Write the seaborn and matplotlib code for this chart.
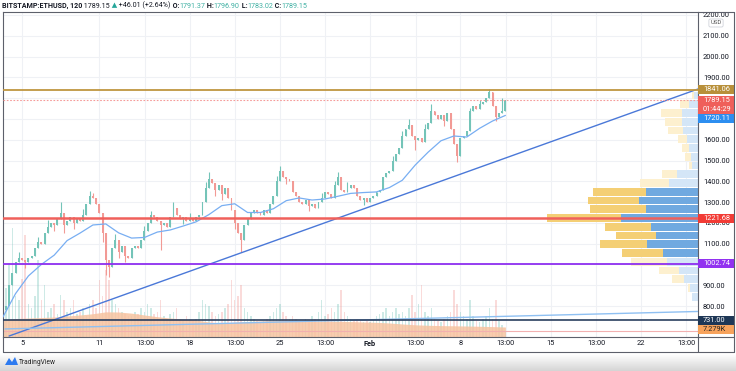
import numpy as np
import pandas as pd
import seaborn as sns
import matplotlib.pyplot as plt
import matplotlib.transforms as mtransforms
from matplotlib.patches import Rectangle, Polygon
from matplotlib.colors import LinearSegmentedColormap
from matplotlib import font_manager as fm

# ---- data ----
# ETH/USD closes, one every 6h starting Jan 3 12:00 (t in days since Jan 5)
close = [780, 800, 900, 960, 1010, 1030, 1020, 1010, 1030, 1040,
         1080, 1110, 1100, 1150, 1180, 1200, 1190, 1220, 1250, 1190,
         1210, 1230, 1200, 1220, 1210, 1240, 1290, 1330, 1320, 1290,
         1250, 1150, 1020, 990, 1080, 1120, 1060, 1090, 1040, 1030,
         1080, 1090, 1080, 1120, 1160, 1200, 1240, 1230, 1210, 1190,
         1200, 1180, 1230, 1270, 1240, 1220, 1230, 1210, 1220, 1210,
         1230, 1240, 1300, 1370, 1410, 1390, 1360, 1380, 1340, 1370,
         1320, 1260, 1200, 1150, 1120, 1190, 1220, 1250, 1260, 1250,
         1240, 1260, 1250, 1290, 1330, 1400, 1450, 1420, 1410, 1400,
         1350, 1330, 1300, 1290, 1310, 1280, 1290, 1270, 1300, 1320,
         1350, 1340, 1320, 1380, 1420, 1360, 1350, 1370, 1380, 1370,
         1330, 1310, 1320, 1300, 1320, 1330, 1350, 1360, 1420, 1440,
         1450, 1500, 1530, 1560, 1620, 1650, 1670, 1620, 1600, 1610,
         1590, 1650, 1680, 1740, 1720, 1700, 1720, 1690, 1730, 1650,
         1580, 1520, 1610, 1620, 1640, 1740, 1760, 1750, 1770, 1780,
         1800, 1830, 1760, 1710, 1730, 1740, 1789.15]
first_open = 760
wick_high = {5: 1060, 11: 1130, 14: 1215, 18: 1300, 25: 1265, 27: 1355, 28: 1345,
             35: 1145, 44: 1185, 46: 1255, 53: 1300, 58: 1250, 63: 1395, 64: 1445,
             85: 1425, 86: 1475, 99: 1345, 103: 1400, 104: 1445, 107: 1395,
             121: 1520, 124: 1640, 126: 1700, 131: 1675, 133: 1770, 145: 1755,
             148: 1790, 151: 1845, 155: 1800}
wick_low = {0: 745, 2: 850, 7: 985, 16: 1160, 19: 1150, 22: 1170, 31: 1110,
            32: 950, 33: 940, 36: 1030, 38: 1010, 49: 1070, 56: 1195, 66: 1330,
            68: 1310, 72: 1170, 74: 1060, 88: 1385, 95: 1255, 112: 1285,
            128: 1550, 137: 1665, 141: 1495, 153: 1690}
volume_k = [40, 60, 90, 132, 50, 45, 70, 124, 40, 35,
            50, 93, 45, 63, 30, 35, 40, 28, 51, 45,
            30, 35, 45, 28, 30, 35, 25, 40, 45, 35,
            69, 50, 81, 69, 45, 40, 35, 30, 28, 25,
            25, 30, 28, 35, 30, 40, 35, 28, 30, 45,
            25, 22, 28, 30, 35, 22, 20, 25, 22, 20,
            22, 30, 45, 40, 38, 30, 25, 28, 30, 35,
            40, 69, 45, 50, 63, 35, 30, 25, 22, 20,
            18, 20, 22, 25, 30, 35, 40, 30, 25, 22,
            25, 22, 20, 18, 22, 20, 25, 22, 30, 45,
            25, 28, 35, 30, 40, 57, 30, 25, 22, 20,
            22, 20, 18, 20, 18, 22, 25, 28, 30, 35,
            25, 30, 35, 28, 30, 25, 35, 51, 30, 40,
            63, 30, 25, 35, 22, 20, 18, 22, 25, 30,
            57, 40, 30, 25, 22, 45, 25, 20, 18, 22,
            25, 35, 22, 45, 20, 15, 7.279]

# daily samples of the moving average and the volume average
ma_price = [745, 860, 945, 1000, 1045, 1115, 1151, 1190, 1195, 1152,
            1127, 1130, 1156, 1166, 1185, 1205, 1240, 1283, 1292, 1250,
            1250, 1268, 1307, 1320, 1310, 1315, 1328, 1342, 1346, 1349,
            1370, 1405, 1478, 1540, 1595, 1618, 1613, 1655, 1690, 1717]
vol_avg_k = [20.6, 22.4, 23, 23.6, 24.2, 25.5, 26.7, 28.2, 30.5, 30.3,
             28.9, 26.7, 24.6, 23, 21.8, 20.6, 18.2, 17, 17.8, 18.8,
             19.4, 20.2, 20.6, 20, 19.4, 19.4, 19, 18.7, 18.2, 17.8,
             17, 15.8, 14.8, 14.2, 13.8, 13.6, 13.3, 13, 12.6, 12.1]

# drawn lines
trend_t, trend_p = [-1.0, 52.44], [656, 1844]
trend2_t, trend2_p = [-1.32, 52.44], [690, 774]
lvl_gold, lvl_last, lvl_red, lvl_purple, lvl_navy = 1841.06, 1789.15, 1221.68, 1002.74, 731.00
ma_last = 1720.11

# visible range volume profile, bins top -> bottom between 824 and 1834
prof_top, prof_bottom = 1834, 824
prof_up = [4, 9, 16, 16, 15, 11, 9, 7, 6, 21, 29, 52, 59, 52, 77, 47, 42, 51, 35, 31, 19, 14, 8, 6]
prof_down = [2, 9, 21, 17, 15, 9, 7, 6, 3, 15, 29, 53, 51, 56, 74, 46, 40, 47, 41, 36, 20, 12, 2, 0]
va_low, va_high = 1035, 1375

tick_days = [0, 6, 9 + 13/24, 13, 16 + 13/24, 20, 23 + 13/24, 27, 30 + 13/24, 34,
             37 + 13/24, 41, 44 + 13/24, 48, 51 + 13/24]
tick_text = ['5', '11', '13:00', '18', '13:00', '25', '13:00', 'Feb', '13:00', '8',
             '13:00', '15', '13:00', '22', '13:00']
price_ticks = list(range(800, 2201, 100))
hidden_ticks = [1000, 1700, 1800]   # sit under the coloured price tags

# ---- style ----
sns.set_theme(style='white')
names = {f.name for f in fm.fontManager.ttflist}
tv_font = next(n for n in ['Liberation Sans Narrow', 'Roboto', 'DejaVu Sans'] if n in names)
fs = 6.3 if tv_font == 'Liberation Sans Narrow' else 5.3
plt.rcParams['font.family'] = [tv_font, 'DejaVu Sans']
dark = '#131722'
up_c, dn_c = '#74c4b8', '#f29a95'

W, H = 736, 371
fig = plt.figure(figsize=(W / 100, H / 100), dpi=100)
fig.patch.set_facecolor('white')
ax = fig.add_axes([3 / W, 1 - 337 / H, 695 / W, 325 / H])
ax.set_facecolor('white')
ax.set_xlim(-1.474, 52.44)
ax.set_ylim(651.2, 2214.4)
ax.set_axisbelow(True)
ax.grid(True, color='#eff1f5', lw=0.8)
for s in ax.spines.values():
    s.set_color('#5d606b')
    s.set_linewidth(0.8)

# ---- candles ----
df = pd.DataFrame({'close': close})
df['t'] = -1.5 + 0.25 * np.arange(len(df))
df['open'] = [first_open] + close[:-1]
df['high'] = [wick_high.get(i, max(o, c)) for i, (o, c) in enumerate(zip(df.open, df.close))]
df['low'] = [wick_low.get(i, min(o, c)) for i, (o, c) in enumerate(zip(df.open, df.close))]
df['col'] = np.where(df.close >= df.open, up_c, dn_c)
df['vol'] = volume_k

ax.vlines(df.t, df.low, df.high, colors=df.col, lw=0.8, zorder=2)
ax.bar(df.t, np.maximum((df.close - df.open).abs(), 3), bottom=np.minimum(df.open, df.close),
       width=0.15, color=df.col, zorder=2.2, linewidth=0)

ma_t = -1.5 + np.arange(len(ma_price))
sns.lineplot(x=ma_t, y=ma_price, ax=ax, color='#78aef2', lw=0.9, zorder=4)
sns.lineplot(x=trend_t, y=trend_p, ax=ax, color='#4a78d8', lw=1, zorder=4)
sns.lineplot(x=trend2_t, y=trend2_p, ax=ax, color='#8fc0f2', lw=1, zorder=4)

ax.axhline(lvl_gold, color='#bf9640', lw=1.3, zorder=5)
ax.axhline(lvl_last, color='#f59a98', lw=0.8, ls=(0, (1.5, 1.5)), zorder=5)
ax.axhline(lvl_red, color='#f0605b', lw=1.8, zorder=5)
ax.axhline(lvl_purple, color='#8e2ff0', lw=1.3, zorder=5)
ax.axhline(lvl_navy, color='#2a3f5f', lw=1.2, zorder=5)

# ---- volume pane ----
axv = ax.inset_axes([0, 0, 1, 1], zorder=1)
axv.set_xlim(ax.get_xlim())
axv.set_ylim(0, 394)
axv.axis('off')
axv.patch.set_alpha(0)
axv.bar(df.t, df.vol, width=0.12, color=df.col, alpha=0.35, linewidth=0)
axv.axhline(volume_k[-1], color='#f2b0b0', lw=0.8)
axv.fill_between(ma_t, vol_avg_k, 0, color='#f7c3a0', alpha=0.85, lw=0)

# ---- volume profile ----
axp = ax.inset_axes([537 / 695, 0, 158 / 695, 1], zorder=1.2)
axp.set_ylim(ax.get_ylim())
axp.set_xlim(158, 0)
axp.axis('off')
axp.patch.set_alpha(0)
bin_h = (prof_top - prof_bottom) / len(prof_up)
centers = prof_top - bin_h * (np.arange(len(prof_up)) + 0.5)
inside = (centers > va_low) & (centers < va_high)
axp.barh(centers, prof_up, height=bin_h * 0.88,
         color=np.where(inside, '#70a9e0', '#d4e6f7'), linewidth=0)
axp.barh(centers, prof_down, left=prof_up, height=bin_h * 0.88,
         color=np.where(inside, '#f4cf75', '#fdf0cf'), linewidth=0)

# ---- axes ticks ----
ax.yaxis.tick_right()
ax.set_yticks(price_ticks)
ax.set_yticklabels(['' if v in hidden_ticks else f'{v:.2f}' for v in price_ticks])
ax.set_xticks(tick_days)
ax.set_xticklabels(tick_text)
for lab in ax.get_xticklabels():
    if lab.get_text() == 'Feb':
        lab.set_fontweight('bold')
ax.tick_params(axis='y', length=0, pad=3.6, labelsize=fs, colors=dark)
ax.tick_params(axis='x', length=0, pad=2.2, labelsize=fs, colors=dark)

# ---- right-hand price tags ----
trans = mtransforms.blended_transform_factory(ax.transAxes, ax.transData)
transv = mtransforms.blended_transform_factory(ax.transAxes, axv.transData)
box_h = 9 / 0.2079


def tag(y, text, fc, tc='white', tr=trans, h=box_h):
    ax.add_patch(Rectangle((1.0, y - h / 2), 36 / 695, h, transform=tr, fc=fc, ec='none',
                           clip_on=False, zorder=8))
    ax.text(1.0 + 5 / 695, y, text, transform=tr, color=tc, va='center', ha='left',
            fontsize=fs, zorder=9, clip_on=False)


tag(lvl_gold, f'{lvl_gold:.2f}', '#b8903a')
tag(lvl_last, f'{lvl_last:.2f}', '#ef5f5a')
tag(lvl_last - box_h, '01:44:29', '#ef5f5a')
tag(lvl_last - 2 * box_h, f'{ma_last:.2f}', '#2d8ef0')
tag(lvl_red, f'{lvl_red:.2f}', '#f23b35')
tag(lvl_purple, f'{lvl_purple:.2f}', '#9232f0')
tag(lvl_navy, f'{lvl_navy:.2f}', '#1e3756')
tag(volume_k[-1] + 1.5, f'{volume_k[-1]:.3f}K', '#f7a35c', tc='#222222', tr=transv, h=9 * 1.2123)

fig.text(716 / W, 1 - 23 / H, 'USD', ha='center', va='center', fontsize=fs - 1, color='#555555',
         bbox=dict(boxstyle='round,pad=0.25', fc='white', ec='#d0d3da', lw=0.6))


# ---- outer frame ----
def fline(xs, ys):
    fig.add_artist(plt.Line2D([x / W for x in xs], [1 - y / H for y in ys],
                              transform=fig.transFigure, color='#5d606b', lw=0.8))


fline([698, 734], [12, 12])
fline([734, 734], [12, 352])
fline([3, 734], [352, 352])
fline([3, 3], [337, 352])
fline([698, 734], [337, 337])
fline([698, 698], [337, 352])

# ---- header ----
hfs = fs - 0.2
pieces = [(' 1789.15', dark, 'normal'), (' \u25b2', '#26a69a', 'normal'),
          (' +46.01 (+2.64%)', dark, 'normal'), (' O:', dark, 'bold'), ('1791.37', '#3fb0a3', 'normal'),
          (' H:', dark, 'bold'), ('1796.90', '#3fb0a3', 'normal'), (' L:', dark, 'bold'),
          ('1783.02', '#3fb0a3', 'normal'), (' C:', dark, 'bold'), ('1789.15', '#3fb0a3', 'normal')]
prev = fig.text(2 / W, 1 - 9.5 / H, 'BITSTAMP:ETHUSD, 120', fontsize=hfs, fontweight='bold',
                color=dark, va='bottom', ha='left')
for s, c, w in pieces:
    prev = ax.annotate(s, xy=(1, 0), xycoords=prev, va='bottom', ha='left', fontsize=hfs,
                       fontweight=w, color=c, annotation_clip=False)

# ---- footer ----
axg = fig.add_axes([0, 0, 1, 17 / H], zorder=-1)
axg.imshow(np.linspace(0, 1, 40)[:, None], aspect='auto',
           cmap=LinearSegmentedColormap.from_list('sh', ['#ffffff', '#d5d5d5']))
axg.axis('off')
fig.add_artist(Polygon([(5 / W, 1 - 365 / H), (9 / W, 1 - 358 / H), (12 / W, 1 - 362 / H),
                        (15 / W, 1 - 357 / H), (18 / W, 1 - 365 / H)],
                       closed=True, transform=fig.transFigure, fc='#2e7bf0', ec='none'))
fig.text(19 / W, 1 - 362 / H, 'TradingView', fontsize=fs - 0.5, color='#222222', va='center', ha='left')

fig.savefig('out.png', dpi=100)
